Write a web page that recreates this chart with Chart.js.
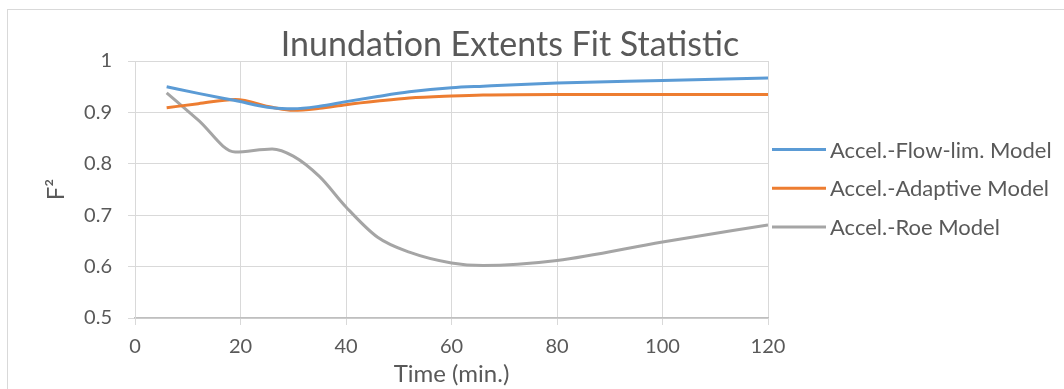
<!DOCTYPE html>
<html>
<head>
<meta charset="utf-8">
<script src="https://cdn.jsdelivr.net/npm/chart.js@4.4.0/dist/chart.umd.min.js"></script>
<style>
  html, body { margin: 0; padding: 0; background: #fff; }
  #wrap { position: relative; width: 1064px; height: 389px; overflow: hidden; }
  #frame { position: absolute; left: 7px; top: 9px; width: 1100px; height: 420px;
           border-left: 1px solid #d9d9d9; border-top: 1px solid #d9d9d9; }
  #myChart { position: absolute; left: 0; top: 0; }
</style>
</head>
<body>
<div id="wrap">
  <div id="frame"></div>
  <canvas id="myChart" width="1064" height="389"></canvas>
</div>
<script>
// run times (min.)
var times    = [6, 12, 19, 26, 30, 35, 40, 46, 52, 60, 66, 80, 100, 120];
// F^2 fit statistic for each model
var flowLim  = [0.950, 0.937, 0.923, 0.909, 0.907, 0.912, 0.921, 0.931, 0.940, 0.948, 0.951, 0.957, 0.962, 0.967];
var adaptive = [0.909, 0.917, 0.925, 0.910, 0.904, 0.908, 0.915, 0.922, 0.928, 0.932, 0.934, 0.935, 0.935, 0.935];
var roe      = [0.938, 0.885, 0.823, 0.829, 0.815, 0.775, 0.716, 0.657, 0.628, 0.607, 0.602, 0.612, 0.648, 0.681];

var seriesNames  = ['Accel.-Flow-lim. Model', 'Accel.-Adaptive Model', 'Accel.-Roe Model'];
var seriesColors = ['#5b9bd5', '#ed7d31', '#a5a5a5'];
var xTicks = [0, 20, 40, 60, 80, 100, 120];
var yTicks = [0.5, 0.6, 0.7, 0.8, 0.9, 1];

var chartTitle = 'Inundation Extents Fit Statistic';
var textColor = '#595959';
var fontName = 'Lato';

function toPoints(values) {
    return values.map(function (v, i) { return { x: times[i], y: v }; });
}

var datasets = [flowLim, adaptive, roe].map(function (vals, i) {
    return {
        label: seriesNames[i],
        data: toPoints(vals),
        borderColor: seriesColors[i],
        backgroundColor: seriesColors[i],
        borderWidth: 3,
        pointRadius: 0,
        fill: false,
        cubicInterpolationMode: 'monotone'
    };
});

// title + legend on the right, drawn on the chart canvas
var titleAndLegend = {
    id: 'titleAndLegend',
    afterDraw: function (chart) {
        var c = chart.ctx;
        c.save();
        c.fillStyle = textColor;
        c.font = '34px ' + fontName;
        c.textAlign = 'center';
        c.textBaseline = 'alphabetic';
        c.fillText(chartTitle, 510, 56);

        c.font = '22px ' + fontName;
        c.textAlign = 'left';
        c.textBaseline = 'middle';
        chart.data.datasets.forEach(function (ds, i) {
            var y = 149.5 + i * 38.8;
            c.strokeStyle = ds.borderColor;
            c.lineWidth = 3;
            c.beginPath();
            c.moveTo(772, y);
            c.lineTo(826, y);
            c.stroke();
            c.fillText(ds.label, 830, y + 1);
        });
        c.restore();
    }
};

var ctx = document.getElementById('myChart');

var myChart = new Chart(ctx, {
    type: 'line',
    data: { datasets: datasets },
    options: {
        responsive: false,
        animation: false,
        layout: { padding: { top: 61, right: 296, left: 0, bottom: 0 } },
        plugins: {
            legend: { display: false },
            title: { display: false },
            tooltip: { enabled: false }
        },
        scales: {
            x: {
                type: 'linear',
                min: 0,
                max: 120,
                afterBuildTicks: function (scale) {
                    scale.ticks = xTicks.map(function (v) { return { value: v }; });
                },
                afterFit: function (scale) { scale.height = 71; },
                grid: { color: '#d9d9d9', lineWidth: 1, tickLength: 7 },
                border: { color: '#bfbfbf', width: 1.5 },
                ticks: {
                    color: textColor,
                    font: { family: fontName, size: 20 },
                    padding: 10,
                    maxRotation: 0
                },
                title: {
                    display: true,
                    text: 'Time (min.)',
                    color: textColor,
                    font: { family: fontName, size: 24 },
                    padding: { top: 0, bottom: 0 }
                }
            },
            y: {
                min: 0.5,
                max: 1,
                afterBuildTicks: function (scale) {
                    scale.ticks = yTicks.map(function (v) { return { value: v }; });
                },
                afterFit: function (scale) { scale.width = 135; },
                grid: { color: '#d9d9d9', lineWidth: 1, tickLength: 7 },
                border: { color: '#d9d9d9', width: 1 },
                ticks: {
                    color: textColor,
                    font: { family: fontName, size: 20 },
                    padding: 16,
                    callback: function (v) { return String(+v.toFixed(1)); }
                },
                title: {
                    display: true,
                    text: 'F²',
                    color: textColor,
                    font: { family: fontName, size: 24 },
                    padding: { top: 42, bottom: 0 }
                }
            }
        }
    },
    plugins: [titleAndLegend]
});
</script>
</body>
</html>
